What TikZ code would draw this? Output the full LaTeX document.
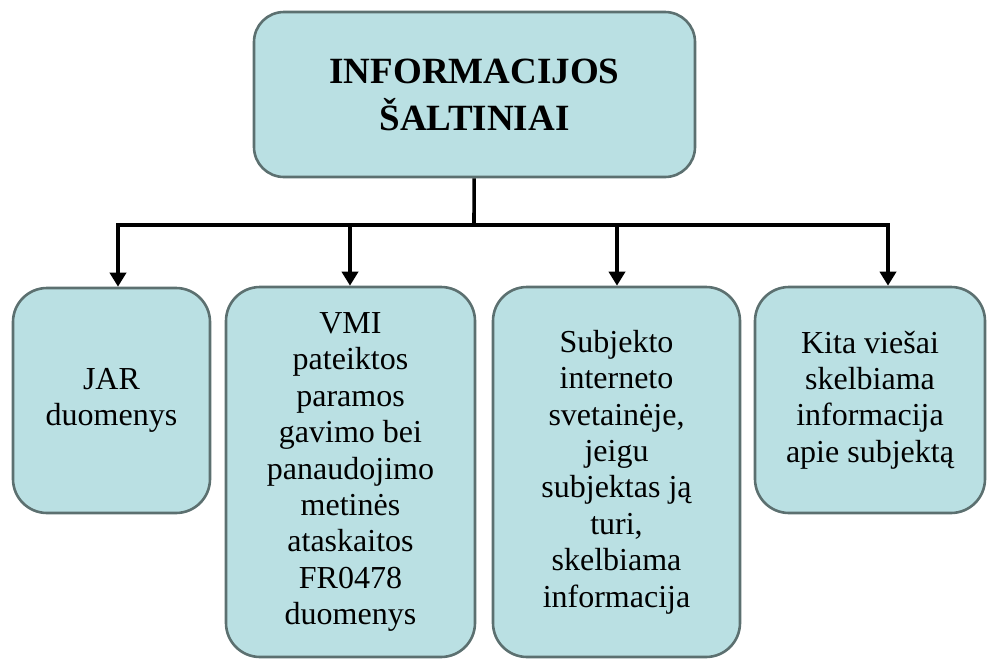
\documentclass[tikz,border=0pt]{standalone}
\usepackage{fontspec}
\setmainfont{Liberation Serif}
\usetikzlibrary{arrows.meta,positioning}
\definecolor{boxfill}{HTML}{BAE0E3}
\definecolor{boxline}{HTML}{5C7070}

\begin{document}
\begin{tikzpicture}[x=1pt,y=-1pt,>={Triangle[width=16pt,length=14pt]},
	srcbox/.style={draw=boxline,fill=boxfill,line width=2.6pt,rounded corners=34pt,align=center,inner sep=0pt,
		font=\fontsize{32}{36.4}\selectfont},
	headbox/.style={srcbox,rounded corners=30pt,font=\fontsize{37}{47}\selectfont\bfseries},
	link/.style={line width=3.6pt}]

\useasboundingbox (0,0) rectangle (989,659);

\node[headbox,minimum width=441pt,minimum height=165pt]   (src)   at (474.5,94.5)   {INFORMACIJOS\\ŠALTINIAI};

\node[srcbox,minimum width=197pt,minimum height=225pt]   (jar)   at (111.5,400.5)   {JAR\\duomenys};
\node[srcbox,minimum width=249pt,minimum height=370pt]   (vmi)   at (350.5,472)   {VMI\\pateiktos\\paramos\\gavimo bei\\panaudojimo\\metinės\\ataskaitos\\FR0478\\duomenys};
\node[srcbox,minimum width=247pt,minimum height=370pt]   (web)   at (616.5,472)   {Subjekto\\interneto\\svetainėje,\\jeigu\\subjektas ją\\turi,\\skelbiama\\informacija};
\node[srcbox,minimum width=230pt,minimum height=226pt]   (kita)   at (870,400)   {Kita viešai\\skelbiama\\informacija\\apie subjektą};

% bus line
\coordinate (bus) at (474,225);
\coordinate (bjar) at (118,225);
\coordinate (bvmi) at (350,225);
\coordinate (bweb) at (617,225);
\coordinate (bkita) at (888,225);

\draw[link] (src) -- (bus);
\draw[link,line cap=rect] (bjar) -- (bkita);

	\path[link,->] (bjar)  edge  (bjar |- jar.north)
					(bvmi)  edge  (bvmi |- vmi.north)
					(bweb)  edge  (bweb |- web.north)
					(bkita)  edge  (bkita |- kita.north);

\end{tikzpicture}
\end{document}
